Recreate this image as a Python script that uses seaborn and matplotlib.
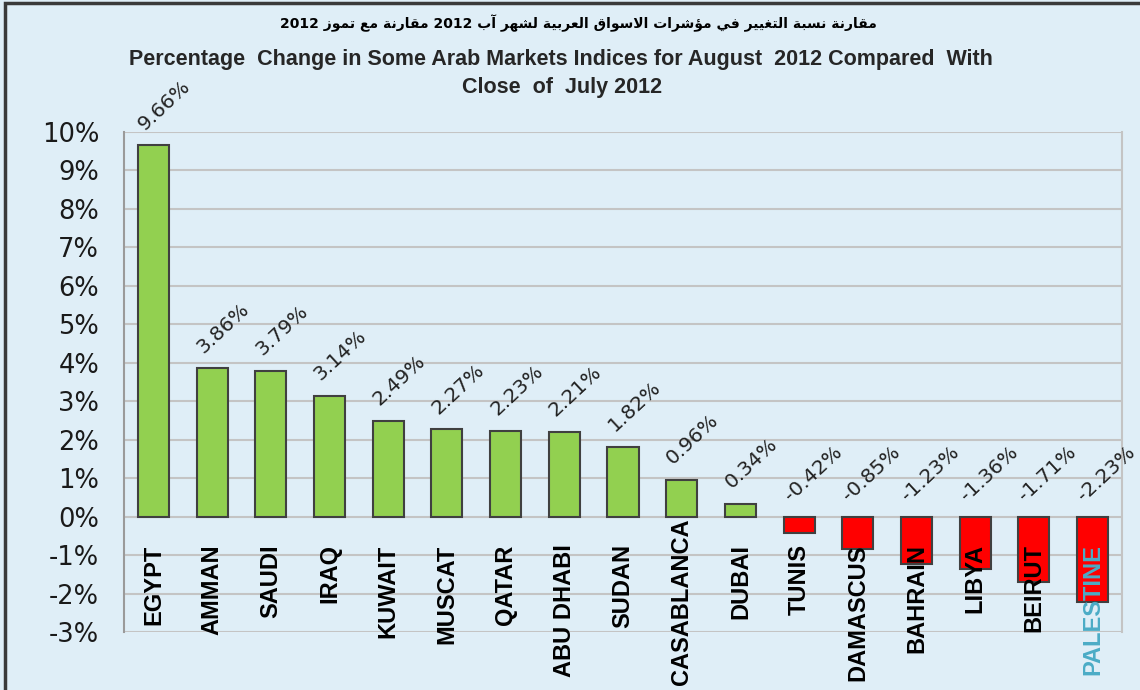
import matplotlib
matplotlib.use("Agg")
import matplotlib.pyplot as plt
from matplotlib import font_manager
from matplotlib.patches import Rectangle
import pandas as pd
import seaborn as sns

# --- data ---
markets = ["EGYPT", "AMMAN", "SAUDI", "IRAQ", "KUWAIT", "MUSCAT", "QATAR",
           "ABU DHABI", "SUDAN", "CASABLANCA", "DUBAI", "TUNIS", "DAMASCUS",
           "BAHRAIN", "LIBYA", "BEIRUT", "PALESTINE"]
changes = [9.66, 3.86, 3.79, 3.14, 2.49, 2.27, 2.23, 2.21, 1.82, 0.96, 0.34,
           -0.42, -0.85, -1.23, -1.36, -1.71, -2.23]
y_ticks = list(range(-3, 11))

title_ar = "مقارنة نسبة التغيير في مؤشرات الاسواق العربية لشهر آب 2012 مقارنة مع تموز 2012"
title_en_1 = "Percentage  Change in Some Arab Markets Indices for August  2012 Compared  With"
title_en_2 = "Close  of  July 2012"
highlight = "PALESTINE"

BG = "#dfeef7"

# matplotlib does no arabic shaping: map letters to presentation forms by hand
# (isolated, final, initial, medial); two-form letters don't join to the next one
AR_FORMS = {
    "\u0622": (0xFE81, 0xFE82), "\u0624": (0xFE85, 0xFE86), "\u0627": (0xFE8D, 0xFE8E),
    "\u0629": (0xFE93, 0xFE94), "\u0631": (0xFEAD, 0xFEAE), "\u0632": (0xFEAF, 0xFEB0),
    "\u0648": (0xFEED, 0xFEEE),
    "\u0628": (0xFE8F, 0xFE90, 0xFE91, 0xFE92), "\u062A": (0xFE95, 0xFE96, 0xFE97, 0xFE98),
    "\u0633": (0xFEB1, 0xFEB2, 0xFEB3, 0xFEB4), "\u0634": (0xFEB5, 0xFEB6, 0xFEB7, 0xFEB8),
    "\u0639": (0xFEC9, 0xFECA, 0xFECB, 0xFECC), "\u063A": (0xFECD, 0xFECE, 0xFECF, 0xFED0),
    "\u0641": (0xFED1, 0xFED2, 0xFED3, 0xFED4), "\u0642": (0xFED5, 0xFED6, 0xFED7, 0xFED8),
    "\u0644": (0xFEDD, 0xFEDE, 0xFEDF, 0xFEE0), "\u0645": (0xFEE1, 0xFEE2, 0xFEE3, 0xFEE4),
    "\u0646": (0xFEE5, 0xFEE6, 0xFEE7, 0xFEE8), "\u0647": (0xFEE9, 0xFEEA, 0xFEEB, 0xFEEC),
    "\u064A": (0xFEF1, 0xFEF2, 0xFEF3, 0xFEF4),
}
LAM_ALEF = {"\u0627": (0xFEFB, 0xFEFC), "\u0622": (0xFEF5, 0xFEF6)}


def shape_word(word):
    out, i = [], 0
    while i < len(word):
        ch = word[i]
        forms = AR_FORMS[ch]
        joins_prev = i > 0 and len(AR_FORMS[word[i - 1]]) == 4
        if ch == "\u0644" and i + 1 < len(word) and word[i + 1] in LAM_ALEF:
            out.append(chr(LAM_ALEF[word[i + 1]][int(joins_prev)]))
            i += 2
            continue
        joins_next = len(forms) == 4 and i + 1 < len(word)
        if joins_prev and joins_next:
            k = 3
        elif joins_next:
            k = 2
        elif joins_prev:
            k = 1
        else:
            k = 0
        out.append(chr(forms[k]))
        i += 1
    return "".join(reversed(out))


def rtl(text):
    words = [w if w.isdigit() else shape_word(w) for w in text.split(" ")]
    return " ".join(reversed(words))


installed = {f.name for f in font_manager.fontManager.ttflist}
narrow = "Liberation Sans Narrow" if "Liberation Sans Narrow" in installed else "Liberation Sans"
title_size = 17 if narrow == "Liberation Sans Narrow" else 15.5

df = pd.DataFrame({
    "market": markets,
    "change": changes,
    "sign": ["up" if v > 0 else "down" for v in changes],
})

sns.set_theme(style="white")
plt.rcParams["font.family"] = ["DejaVu Sans"]

fig = plt.figure(figsize=(11.4, 6.9), dpi=100, facecolor=BG)
ax = fig.add_axes([0.1088, 0.0841, 0.8754, 0.7246])
ax.set_facecolor(BG)

sns.barplot(data=df, x="market", y="change", hue="sign",
            palette={"up": "#92d050", "down": "#ff0000"}, saturation=1,
            dodge=False, legend=False, width=0.53,
            edgecolor="#404040", linewidth=1.5, ax=ax, zorder=3)

ax.set_ylim(-3, 10)
ax.set_xlim(-0.5, len(markets) - 0.5)
ax.set_yticks(y_ticks)
ax.set_yticklabels([f"{t}%" for t in y_ticks], fontsize=18.5, color="#1a1a1a")
ax.tick_params(axis="y", length=0, pad=18)
ax.set_xticks([])
ax.set_xlabel("")
ax.set_ylabel("")
ax.yaxis.grid(True, color="#c4c4c4", linewidth=1.5, zorder=0)
ax.set_axisbelow(True)
for side in ["top", "bottom"]:
    ax.spines[side].set_visible(False)
ax.spines["left"].set_color("#9a9a9a")
ax.spines["left"].set_linewidth(1.5)
ax.spines["right"].set_color("#c4c4c4")
ax.spines["right"].set_linewidth(1.5)

# value labels, slanted like the excel ones
for i, v in enumerate(changes):
    ax.text(i - 0.1, max(v, 0) + 0.3, f"{v:.2f}%", rotation=43,
            rotation_mode="anchor", ha="left", va="bottom",
            fontsize=14.5, color="#222222", zorder=5)

# market names written downward from just under the zero line
name_texts = []
for i, name in enumerate(markets):
    t = ax.annotate(name, xy=(i, 0), xytext=(0, -20), textcoords="offset points",
                    rotation=90, ha="center", va="top", fontsize=17,
                    fontweight="bold", family="Liberation Sans",
                    color="#4bacc6" if name == highlight else "black",
                    annotation_clip=False, zorder=6)
    name_texts.append(t)

fig.text(0.507, 0.967, rtl(title_ar), ha="center", va="center",
         fontsize=10, fontweight="bold", color="black")
fig.text(0.492, 0.914, title_en_1, ha="center", va="center",
         fontsize=title_size, fontweight="bold", family=narrow)
fig.text(0.493, 0.873, title_en_2, ha="center", va="center",
         fontsize=title_size, fontweight="bold", family=narrow)

# frame on the top and left of the picture
fig.add_artist(Rectangle((0.004, -0.2), 1.2, 1.195, transform=fig.transFigure,
                         fill=False, edgecolor="#3a3a3a", linewidth=2.5))

# names too long for the space left get pushed up so they end at the bottom edge
fig.canvas.draw()
renderer = fig.canvas.get_renderer()
for t in name_texts:
    bb = t.get_window_extent(renderer)
    if bb.y0 < 5:
        dx, dy = t.xyann
        t.xyann = (dx, dy + (5 - bb.y0) * 72 / fig.dpi)

fig.savefig("out.png", dpi=100, facecolor=BG)
